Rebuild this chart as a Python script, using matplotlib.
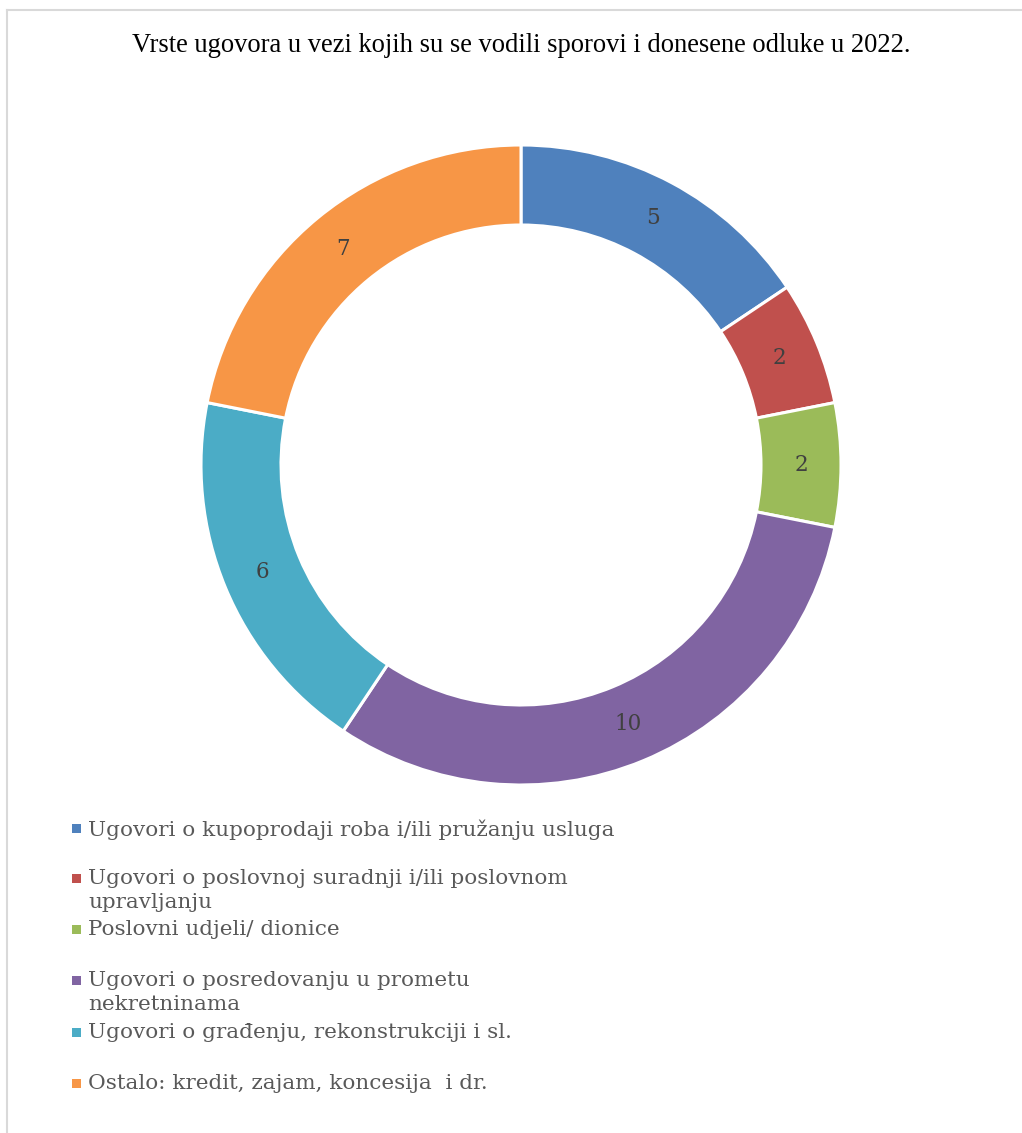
import matplotlib.pyplot as plt
from matplotlib.lines import Line2D
from matplotlib.patches import Rectangle

# Data
categories = [
    "Ugovori o kupoprodaji roba i/ili pružanju usluga",
    "Ugovori o poslovnoj suradnji i/ili poslovnom\nupravljanju",
    "Poslovni udjeli/ dionice",
    "Ugovori o posredovanju u prometu\nnekretninama",
    "Ugovori o građenju, rekonstrukciji i sl.",
    "Ostalo: kredit, zajam, koncesija  i dr.",
]
values = [5, 2, 2, 10, 6, 7]
colors = ["#4F81BD", "#C0504D", "#9BBB59", "#8064A2", "#4BACC6", "#F79646"]
title = "Vrste ugovora u vezi kojih su se vodili sporovi i donesene odluke u 2022."

W, H = 1022, 1133
fig = plt.figure(figsize=(W / 100, H / 100), dpi=100)

# light frame (top and left edge)
fig.add_artist(Line2D([7 / W, 1], [1 - 10 / H, 1 - 10 / H], color="#D9D9D9", lw=1.5))
fig.add_artist(Line2D([7 / W, 7 / W], [0, 1 - 10 / H], color="#D9D9D9", lw=1.5))

fig.text(521 / W, 1 - 45 / H, title, ha="center", va="center",
         fontsize=19.1, family="Liberation Serif", color="black")

# donut
cx, cy, half = 521, 465, 340
ax = fig.add_axes([(cx - half) / W, (H - cy - half) / H, 2 * half / W, 2 * half / H])
total = sum(values)
wedges, texts, autotexts = ax.pie(
    values, colors=colors, startangle=90, counterclock=False, radius=1.0,
    wedgeprops=dict(width=0.25, edgecolor="white", linewidth=2.2),
    autopct=lambda p: f"{round(p * total / 100):d}", pctdistance=0.875,
    textprops=dict(fontsize=15.5, family="DejaVu Serif", color="#404040"),
)
ax.set_xlim(-half / 320, half / 320)
ax.set_ylim(-half / 320, half / 320)
ax.set_aspect("equal")
ax.axis("off")

# legend drawn manually
rows_y = [828, 878, 929, 980, 1032, 1083]
for name, col, y in zip(categories, colors, rows_y):
    fig.add_artist(Rectangle(((76 - 4.5) / W, 1 - (y + 4.5) / H), 9 / W, 9 / H,
                             transform=fig.transFigure, color=col, lw=0))
    fig.text(88 / W, 1 - (y - 9) / H, name, ha="left", va="top",
             fontsize=15.45, family="DejaVu Serif", color="#595959", linespacing=1.3)

fig.savefig("out.png", dpi=100, facecolor="white")
